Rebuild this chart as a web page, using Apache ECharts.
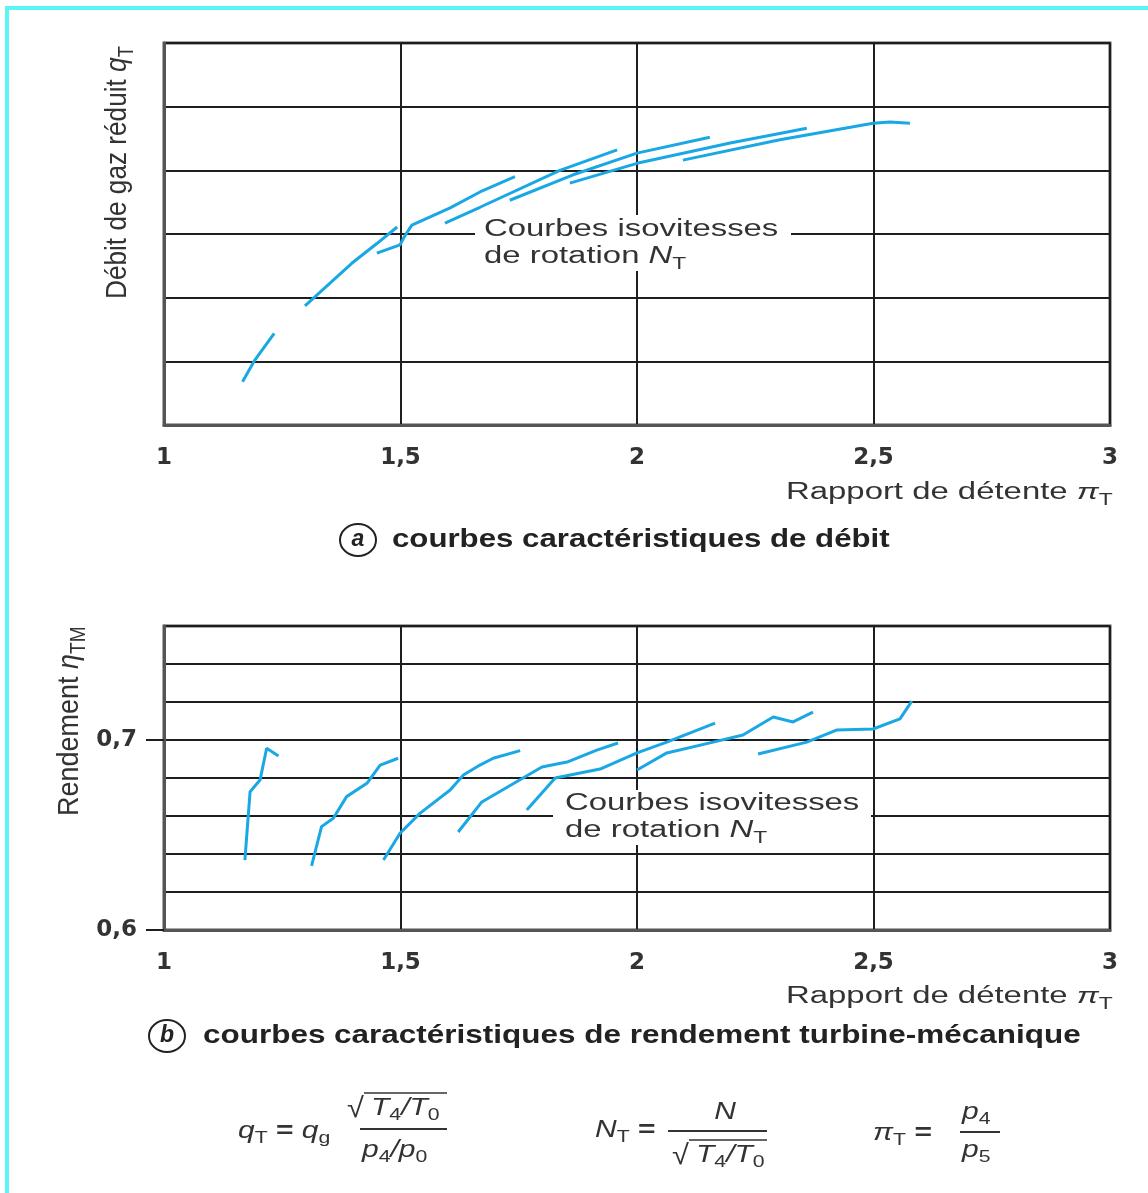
<!DOCTYPE html>
<html>
<head>
<meta charset="utf-8">
<script src="https://cdn.jsdelivr.net/npm/echarts@6/dist/echarts.min.js"></script>
<style>
html,body{margin:0;padding:0;background:#fff;}
#c{width:1148px;height:1193px;}
</style>
</head>
<body>
<div id="c"></div>
<script>
// ---- data (x = pressure ratio pi_T) ----
var xTicks = [1, 1.5, 2, 2.5, 3];
// (a) reduced gas flow q_T (arbitrary units, 6 grid divisions)
var qCurve1 = [[1.166,0.68],[1.192,1.02],[1.233,1.44]];
var qCurve2 = [[1.298,1.87],[1.397,2.54],[1.450,2.85],[1.493,3.11]];
var qCurve3 = [[1.450,2.70],[1.499,2.83],[1.510,2.98],[1.524,3.14],[1.605,3.41],[1.668,3.66],[1.742,3.90]];
var qCurve4 = [[1.594,3.17],[1.668,3.42],[1.837,4.00],[1.958,4.32]];
var qCurve5 = [[1.731,3.53],[1.865,3.93],[2.000,4.27],[2.154,4.52]];
var qCurve6 = [[1.858,3.80],[2.000,4.11],[2.197,4.43],[2.359,4.66]];
var qCurve7 = [[2.097,4.16],[2.302,4.48],[2.499,4.74],[2.535,4.76],[2.577,4.74]];
// (b) efficiency eta_TM
var etaCurve1 = [[1.171,0.6368],[1.182,0.6728],[1.203,0.6789],[1.217,0.6956],[1.242,0.6916]];
var etaCurve2 = [[1.312,0.6337],[1.333,0.6544],[1.358,0.6588],[1.386,0.6702],[1.429,0.6772],[1.457,0.6868],[1.495,0.6904]];
var etaCurve3 = [[1.464,0.6368],[1.499,0.6509],[1.541,0.6614],[1.605,0.6737],[1.633,0.6816],[1.668,0.6868],[1.696,0.6904],[1.753,0.6944]];
var etaCurve4 = [[1.622,0.6516],[1.672,0.6674],[1.759,0.6800],[1.799,0.6858],[1.852,0.6884],[1.915,0.6947],[1.960,0.6984]];
var etaCurve5 = [[1.767,0.6632],[1.827,0.6800],[1.922,0.6847],[2.000,0.6932],[2.063,0.6989],[2.165,0.7089]];
var etaCurve6 = [[2.000,0.6842],[2.063,0.6932],[2.161,0.6989],[2.224,0.7026],[2.288,0.7121],[2.330,0.7095],[2.372,0.7147]];
var etaCurve7 = [[2.256,0.6926],[2.359,0.6989],[2.423,0.7053],[2.499,0.7058],[2.556,0.7111],[2.581,0.7205]];
var etaLabelValues = [0.6, 0.7];

var qCurves = [qCurve1,qCurve2,qCurve3,qCurve4,qCurve5,qCurve6,qCurve7];
var etaCurves = [etaCurve1,etaCurve2,etaCurve3,etaCurve4,etaCurve5,etaCurve6,etaCurve7];

var BLUE = '#1aa8e4';
var GRID = '#1e1e1e';
var FRAME = '#555';
var TXT = '#333';
var SANS = '"Liberation Sans", Arial, sans-serif';
var WIDE = '"DejaVu Sans", sans-serif';

function fmt(v){ return String(+v.toFixed(2)).replace('.', ','); }

var chart = echarts.init(document.getElementById('c'), null, {renderer:'canvas'});

var series = [];
qCurves.forEach(function(d){
  series.push({type:'line', xAxisIndex:0, yAxisIndex:0, data:d, showSymbol:false, smooth:false,
    lineStyle:{color:BLUE, width:3}, z:5, silent:true, animation:false});
});
etaCurves.forEach(function(d){
  series.push({type:'line', xAxisIndex:1, yAxisIndex:1, data:d, showSymbol:false, smooth:false,
    lineStyle:{color:BLUE, width:3}, z:5, silent:true, animation:false});
});

function xAx(gi){
  return {gridIndex:gi, type:'value', min:1, max:3, interval:0.5,
    axisLine:{show:true, onZero:false, lineStyle:{color:FRAME, width:3}},
    axisTick:{show:false},
    axisLabel:{formatter:fmt, color:TXT, fontFamily:WIDE, fontWeight:'bold', fontSize:23, margin:22},
    splitLine:{show:true, lineStyle:{color:GRID, width:2}}};
}

var option = {
  animation:false,
  backgroundColor:'#fff',
  grid:[
    {left:164, top:43, width:946, height:382, show:true, borderColor:FRAME, borderWidth:3, backgroundColor:'transparent'},
    {left:164, top:626, width:946, height:304, show:true, borderColor:FRAME, borderWidth:3, backgroundColor:'transparent'}
  ],
  xAxis:[xAx(0), xAx(1)],
  yAxis:[
    {gridIndex:0, type:'value', min:0, max:6, interval:1,
      axisLine:{show:true, lineStyle:{color:FRAME, width:3}}, axisTick:{show:false}, axisLabel:{show:false},
      splitLine:{show:true, lineStyle:{color:GRID, width:2}}},
    {gridIndex:1, type:'value', position:'left', min:0.6, max:0.76, interval:0.02,
      axisLine:{show:true, lineStyle:{color:FRAME, width:3}}, axisTick:{show:false}, axisLabel:{show:false},
      splitLine:{show:true, lineStyle:{color:GRID, width:2}}},
    {gridIndex:1, type:'value', position:'left', offset:0, min:0.6, max:0.76, interval:0.1,
      axisLine:{show:false},
      axisTick:{show:true, customValues:etaLabelValues, length:18, lineStyle:{color:GRID, width:2}},
      axisLabel:{customValues:etaLabelValues, formatter:fmt, color:TXT, fontFamily:WIDE, fontWeight:'bold', fontSize:23, margin:27},
      splitLine:{show:false}}
  ],
  series:series
};
chart.setOption(option);

function T(x, y, text, o){
  o = o || {};
  return {type:'text', x:x, y:y, z:20, scaleX:o.sx||1, scaleY:o.sy||1, rotation:o.rot||0,
    style:{text:text, fill:o.color||TXT, fontSize:o.size||23, fontFamily:o.family||SANS,
      fontWeight:o.weight||'normal', fontStyle:o.style||'normal',
      textAlign:o.align||'left', textVerticalAlign:o.valign||'middle', rich:o.rich}};
}
function L(x1,y1,x2,y2,w,c){
  return {type:'line', z:20, shape:{x1:x1,y1:y1,x2:x2,y2:y2}, style:{stroke:c||'#222', lineWidth:w||2}};
}
function subRich(size){
  return {
    i:{fontSize:size, fontStyle:'italic', fontFamily:SANS, fill:TXT, color:TXT, lineHeight:size+8, verticalAlign:'middle'},
    n:{fontSize:size, fontFamily:SANS, fill:TXT, color:TXT, lineHeight:size+8, verticalAlign:'middle'},
    s:{fontSize:Math.round(size*0.7), fontFamily:SANS, fill:TXT, color:TXT, lineHeight:size-2, verticalAlign:'bottom'},
    si:{fontSize:Math.round(size*0.7), fontStyle:'italic', fontFamily:SANS, fill:TXT, color:TXT, lineHeight:size-2, verticalAlign:'bottom'},
    e:{fontSize:size, fontWeight:'bold', fontFamily:SANS, fill:TXT, color:TXT, lineHeight:size+8, verticalAlign:'middle'}
  };
}

var g = [];
// cyan frame
g.push(L(5, 8, 1148, 8, 4, '#5cf6f6'));
g.push(L(7, 6, 7, 1193, 4, '#5cf6f6'));
// white boxes behind annotations
g.push({type:'rect', z:15, shape:{x:475, y:215, width:316, height:56}, style:{fill:'#fff'}});
g.push({type:'rect', z:15, shape:{x:553, y:790, width:318, height:55}, style:{fill:'#fff'}});
// annotations
g.push(T(484, 230, 'Courbes isovitesses', {sx:1.43}));
g.push(T(484, 257, '{n|de rotation }{i|N}{s|T}', {sx:1.43, rich:subRich(23)}));
g.push(T(565, 804, 'Courbes isovitesses', {sx:1.43}));
g.push(T(565, 831, '{n|de rotation }{i|N}{s|T}', {sx:1.43, rich:subRich(23)}));
// x axis names
g.push(T(786, 493, '{n|Rapport de détente }{i|π}{s|T}', {sx:1.43, rich:subRich(23)}));
g.push(T(786, 997, '{n|Rapport de détente }{i|π}{s|T}', {sx:1.43, rich:subRich(23)}));
// y axis names (rotated)
g.push(T(118, 299, '{n|Débit de gaz réduit }{i|q}{s|T}', {rot:Math.PI/2, sx:0.97, sy:1.12, rich:subRich(27)}));
g.push(T(70, 816, '{n|Rendement }{i|η}{s|TM}', {rot:Math.PI/2, sx:1.0, sy:1.12, rich:subRich(27)}));
// captions
g.push({type:'ellipse', z:20, shape:{cx:358, cy:540, rx:18, ry:16}, style:{fill:'none', stroke:'#222', lineWidth:2}});
g.push(T(358, 540, 'a', {align:'center', weight:'bold', style:'italic', size:23, color:'#222'}));
g.push(T(392, 540, 'courbes caractéristiques de débit', {weight:'bold', size:26, sx:1.2, color:'#222'}));
g.push({type:'ellipse', z:20, shape:{cx:167, cy:1036, rx:18, ry:16}, style:{fill:'none', stroke:'#222', lineWidth:2}});
g.push(T(167, 1036, 'b', {align:'center', weight:'bold', style:'italic', size:23, color:'#222'}));
g.push(T(203, 1036, 'courbes caractéristiques de rendement turbine-mécanique', {weight:'bold', size:26, sx:1.21, color:'#222'}));
// formulas
var fr = subRich(24);
g.push(T(238, 1131, '{i|q}{s|T}{e| = }{i|q}{s|g}', {sx:1.25, rich:fr}));
g.push(T(347, 1109, '√', {size:28, sx:1.1}));
g.push(L(364, 1093, 447, 1093, 1.6, TXT));
g.push(T(371, 1108, '{i|T}{s|4}{i|/T}{s|0}', {sx:1.25, rich:fr}));
g.push(L(360, 1129, 447, 1129, 2, TXT));
g.push(T(362, 1150, '{i|p}{s|4}{i|/p}{s|0}', {sx:1.25, rich:fr}));

g.push(T(595, 1130, '{i|N}{s|T}{e| =}', {sx:1.25, rich:fr}));
g.push(T(725, 1112, '{i|N}', {align:'center', sx:1.25, rich:fr}));
g.push(L(668, 1131, 767, 1131, 2, TXT));
g.push(T(672, 1156, '√', {size:28, sx:1.1}));
g.push(L(689, 1140, 767, 1140, 1.6, TXT));
g.push(T(696, 1155, '{i|T}{s|4}{i|/T}{s|0}', {sx:1.25, rich:fr}));

g.push(T(873, 1133, '{i|π}{s|T}{e| =}', {sx:1.25, rich:fr}));
g.push(T(962, 1112, '{i|p}{s|4}', {sx:1.25, rich:fr}));
g.push(L(960, 1132, 1000, 1132, 2, TXT));
g.push(T(962, 1150, '{i|p}{s|5}', {sx:1.25, rich:fr}));

chart.setOption({graphic:{elements:g}});
</script>
</body>
</html>
